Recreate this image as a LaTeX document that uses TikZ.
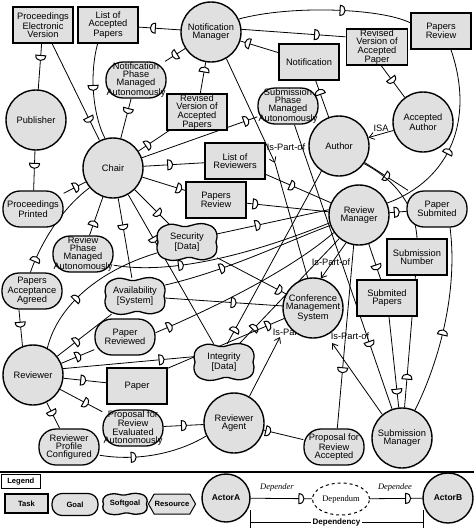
\documentclass[tikz,border=0pt]{standalone}
\usepackage{fontspec}
\setmainfont{Liberation Sans}
\newfontfamily\serifA{Liberation Serif}
\usetikzlibrary{shapes.misc,shapes.symbols,shapes.geometric,arrows.meta}
\pgfdeclarelayer{edges}
\pgfsetlayers{edges,main}
\definecolor{gfill}{gray}{0.88}
\newcommand{\ovr}[1]{\makebox[44pt][c]{#1}}
\begin{document}
\begin{tikzpicture}[x=1pt,y=-1pt,
  font=\fontsize{9.3}{8.3}\selectfont,
  actor/.style={circle,draw,fill=gfill,line width=1.4pt,minimum size=60pt,inner sep=0pt,align=center},
  res/.style={rectangle,draw,fill=gfill,line width=1.6pt,minimum width=60pt,minimum height=36pt,inner sep=0pt,align=center},
  goal/.style={rectangle,rounded corners=17pt,draw,fill=gfill,line width=1.3pt,minimum width=60pt,minimum height=36pt,inner sep=0pt,align=center},
  soft/.style={rectangle,minimum width=60pt,minimum height=36pt,inner sep=0pt,align=center},
  softg/.pic={\draw[line width=1.3pt,fill=gfill]
     (-20pt,17pt) .. controls (-12pt,20pt) and (-6pt,14pt) .. (0pt,15.5pt)
     .. controls (7pt,17pt) and (12pt,20pt) .. (20pt,17.5pt)
     .. controls (31pt,15pt) and (31pt,5pt) .. (29pt,0pt)
     .. controls (31pt,-6pt) and (31pt,-15pt) .. (20pt,-17pt)
     .. controls (11pt,-20pt) and (6pt,-14pt) .. (0pt,-15.5pt)
     .. controls (-6pt,-17pt) and (-12pt,-20pt) .. (-20pt,-17.5pt)
     .. controls (-31pt,-15pt) and (-31pt,-5pt) .. (-29pt,0pt)
     .. controls (-31pt,5pt) and (-31pt,14pt) .. (-20pt,17pt) -- cycle;},
  link/.style={line width=0.8pt},
  isa/.style={line width=0.8pt,-{Straight Barb[length=5pt,width=7pt,line width=0.8pt]}},
  lbl/.style={inner sep=0.5pt},
  lgfont/.style={font=\bfseries\fontsize{7.6}{8}\selectfont},
  dm/.pic={\draw[line width=1pt,fill=white] (-2pt,-5pt) -- (-2pt,5pt) .. controls (4.6pt,5pt) and (4.6pt,-5pt) .. (-2pt,-5pt) -- cycle;},
  dmr/.pic={\draw[line width=1pt,fill=white] (2pt,-5pt) -- (2pt,5pt) .. controls (-4.6pt,5pt) and (-4.6pt,-5pt) .. (2pt,-5pt) -- cycle;}
]
\useasboundingbox (0,0) rectangle (474,528);

% ---------- nodes ----------
\node[res] (PEV) at (43,25) {Proceedings\\Electronic\\Version};
\node[res] (LoAP) at (108,25) {List of\\Accepted\\Papers};
\node[actor] (NM) at (211,32) {Notification\\Manager};
\node[res,minimum width=61pt] (RVAP) at (377,47) {Revised\\Version of\\Accepted\\Paper};
\node[res] (PR1) at (441,31) {Papers\\Review};
\node[res] (Notif) at (309,62) {Notification};
\node[goal] (NPMA) at (136,80) {Notification\\Phase\\Managed\\\ovr{Autonomously}};
\node[res] (RVoAPs) at (197,112) {Revised\\Version of\\Accepted\\Papers};
\node[goal] (SPMA) at (288,106) {Submission\\Phase\\Managed\\\ovr{Autonomously}};
\node[actor] (Pub) at (36,120) {Publisher};
\node[actor] (AA) at (423,122) {Accepted\\Author};
\node[actor] (Author) at (339,146) {Author};
\node[actor] (Chair) at (113,168) {Chair};
\node[res] (LoR) at (235,161) {List of\\Reviewers};
\node[res] (PR2) at (216,200) {Papers\\Review};
\node[goal] (PP) at (33,209) {Proceedings\\Printed};
\node[goal] (PS) at (437,209) {Paper\\Submited};
\node[actor] (RM) at (359,215) {Review\\Manager};
\pic at (187,242) {softg};
\node[soft] (Sec) at (187,242) {Security\\{[Data]}};
\node[goal] (RPMA) at (83,254) {Review\\Phase\\Managed\\\ovr{Autonomously}};
\node[res] (SN) at (417,257) {Submission\\Number};
\node[goal] (PAA) at (32,291) {Papers\\Acceptance\\Agreed};
\pic at (135,296) {softg};
\node[soft] (Avail) at (135,296) {Availability\\{[System]}};
\node[res] (SP) at (387,298) {Submited\\Papers};
\node[actor] (CMS) at (313,308) {Conference\\\makebox[46pt][c]{Management}\\System};
\node[goal] (PRev) at (125,337) {Paper\\Reviewed};
\pic at (224,362) {softg};
\node[soft] (Integ) at (224,362) {Integrity\\{[Data]}};
\node[actor] (Rev) at (33,375) {Reviewer};
\node[res] (Paper) at (137,386) {Paper};
\node[actor] (RA) at (234,423) {Reviewer\\Agent};
\node[goal] (PREA) at (133,428) {Proposal for\\Review\\Evaluated\\\ovr{Autonomously}};
\node[goal] (RPC) at (69,447) {Reviewer\\Profile\\Configured};
\node[goal] (PRA) at (334,447) {Proposal for\\Review\\Accepted};
\node[actor] (SM) at (402,438) {Submission\\Manager};

% ---------- connectors ----------
\begin{pgfonlayer}{edges}
\draw[link] (PEV) -- (Pub) pic[sloped,pos=0.3]{dmr};
\draw[link] (PEV) -- (Chair) pic[sloped,pos=0.78]{dm};
\draw[link] (LoAP.-119) .. controls (88,80) and (95,120) .. (Chair.105) pic[sloped,pos=0.4]{dm};
\draw[link] (LoAP) -- (NM) pic[sloped,pos=0.35]{dmr};
\draw[link] (NPMA) -- (NM) pic[sloped,pos=0.5]{dmr};
\draw[link] (NPMA) -- (Chair) pic[sloped,pos=0.3]{dmr};
\draw[link] (RVoAPs) -- (NM) pic[sloped,pos=0.75]{dm};
\draw[link] (RVoAPs) -- (Chair) pic[sloped,pos=0.7]{dm};
\draw[link] (Chair) -- (PP) pic[sloped,pos=0.45]{dm};
\draw[link] (Pub) -- (PP) pic[sloped,pos=0.37]{dmr};
\draw[link] (Chair) -- (RPMA) pic[sloped,pos=0.7]{dm};
\draw[link] (Chair.-140) .. controls (60,210) and (40,245) .. (PAA.95) pic[sloped,pos=0.85]{dm};
\draw[link] (Chair) -- (Avail) pic[sloped,pos=0.36]{dm};
\draw[link] (Chair) -- (Integ) pic[sloped,pos=0.3]{dm};
\draw[link] (Chair) -- (Sec) pic[sloped,pos=0.68]{dm};
\draw[link] (Chair) -- (LoR) pic[sloped,pos=0.43]{dm};
\draw[link] (Chair) -- (PR2) pic[sloped,pos=0.85]{dm};
\draw[link] (Chair) -- (SPMA) pic[sloped,pos=0.9]{dm};
\draw[link] (NM.25) .. controls (290,5) and (380,8) .. (PR1.165) pic[sloped,pos=0.55]{dm};
\draw[link] (NM.5) -- (RVAP.162) pic[sloped,pos=0.72]{dm};
\draw[link] (NM) -- (Notif) pic[sloped,pos=0.2]{dmr};
\draw[link] (Notif) -- (Author) pic[sloped,pos=0.32]{dmr};
\draw[link] (RVAP.-77) -- (AA) pic[sloped,pos=0.45]{dm};
\draw[isa] (AA) -- (Author) node[lbl,above=2pt,pos=0.5]{ISA};
\draw[link] (PR1.-62) .. controls (475,120) and (450,180) .. (RM.23) pic[sloped,pos=0.55]{dm};
\draw[link] (Author) -- (PS) pic[sloped,pos=0.5]{dm};
\draw[link] (RM) -- (PS) pic[sloped,pos=0.4]{dm};
\draw[link] (Author.-35) .. controls (395,180) and (415,205) .. (SN.north);
\draw[link] (SN) -- (SM) pic[sloped,pos=0.77]{dm};
\draw[link] (SP) -- (SM) pic[sloped,pos=0.82]{dm};
\draw[link] (PS.-55) .. controls (458,290) and (440,360) .. (SM.65) pic[sloped,pos=0.55]{dm};
\draw[link] (SPMA) -- (SM) pic[sloped,pos=0.77]{dm};
\draw[link] (RM) -- (SP) pic[sloped,pos=0.65]{dm};
\draw[link] (PRA.80) -- (RM.-100) pic[sloped,pos=0.32]{dmr};
\draw[link] (PRA) -- (RA) pic[sloped,pos=0.9]{dm};
\draw[link] (PREA) -- (RA) pic[sloped,pos=0.5]{dm};
\draw[link] (RPC.-15) .. controls (140,462) and (180,452) .. (RA.205) pic[sloped,pos=0.28]{dm};
\draw[link] (Rev) -- (RPC) pic[sloped,pos=0.4]{dm};
\draw[link] (Rev) -- (PREA) pic[sloped,pos=0.6]{dm};
\draw[link] (Rev) -- (Paper) pic[sloped,pos=0.45]{dm};
\draw[link] (Rev.12) -- (Integ.170) pic[sloped,pos=0.75]{dm};
\draw[link] (Rev) -- (PRev) pic[sloped,pos=0.5]{dm};
\draw[link] (PAA.-125) -- (Rev.110) pic[sloped,pos=0.4]{dm};
\draw[link] (Rev.62) .. controls (58,305) and (100,270) .. (Sec.200) pic[sloped,pos=0.42]{dm};
\draw[link] (Rev) -- (Avail) pic[sloped,pos=0.35]{dm};
\draw[link] (Avail) -- (CMS) pic[sloped,pos=0.58]{dm};
\draw[link] (Avail.20) .. controls (230,270) and (290,240) .. (RM.200) pic[sloped,pos=0.3]{dm};
\draw[link] (RPMA.-20) .. controls (170,275) and (250,255) .. (RM.195) pic[sloped,pos=0.35]{dm};
\draw[link] (Sec.15) -- (RM.170) pic[sloped,pos=0.36]{dm};
\draw[link] (Sec) -- (CMS) pic[sloped,pos=0.9]{dm};
\draw[link] (Integ.80) -- (Author.-125) pic[sloped,pos=0.08]{dm};
\draw[link] (Integ.50) -- (RM.-130) pic[sloped,pos=0.15]{dm};
\draw[link] (PRev.8) .. controls (220,305) and (290,270) .. (RM.215) pic[sloped,pos=0.07]{dm};
\draw[link] (Paper.30) -- (CMS.200) pic[sloped,pos=0.86]{dm};
\draw[link] (LoR) -- (RM) pic[sloped,pos=0.4]{dm};
\draw[link] (PR2) -- (RM) pic[sloped,pos=0.1]{dm};
% is-part-of links
\coordinate (ispNM) at (275,163);
\draw[isa] (NM.-60) -- (ispNM);
\draw[link] (ispNM) -- (CMS.100);
\node[lbl] (tNM) at (286,147) {Is-Part-of};
\draw[isa] (RM.-115) -- (CMS.75);
\node[lbl] (tRM) at (331,262) {Is-Part-of};
\coordinate (ispRA) at (280,337);
\draw[isa] (RA.60) -- (ispRA);
\node[lbl] (tRA) at (292,332) {Is-Part-of};
\coordinate (ispSM) at (332,343);
\draw[isa] (SM.130) -- (ispSM);
\node[lbl] (tSM) at (350,336) {Is-Part-of};
\end{pgfonlayer}

% ---------- legend ----------
\coordinate (legL) at (0,472);
\coordinate (legR) at (474,472);
\draw[line width=2pt] (legL) -- (legR);
\node[draw,line width=1.3pt,inner sep=0pt,minimum width=39pt,minimum height=14pt,lgfont,anchor=north west] (leg) at (0.7,473.5) {Legend};
\node[res,minimum width=43pt,minimum height=19pt,line width=1.2pt,lgfont] (lTask) at (26.5,503.5) {Task};
\node[goal,rounded corners=10pt,minimum width=46pt,minimum height=22pt,line width=1.2pt,lgfont] (lGoal) at (75,504.5) {Goal};
\pic[xscale=0.74,yscale=0.58] at (125,504) {softg};
\node[soft,minimum width=44pt,minimum height=20pt,lgfont] (lSoft) at (125,504) {Softgoal};
\node[signal,signal to=east and west,signal pointer angle=120,draw,fill=gfill,line width=1pt,minimum width=44pt,minimum height=20pt,inner sep=0.5pt,lgfont] (lRes) at (172,504) {Resource};
\node[actor,minimum size=48pt,font=\bfseries\fontsize{8.5}{9}\selectfont] (actA) at (226,498) {ActorA};
\node[actor,minimum size=50pt,font=\bfseries\fontsize{8.5}{9}\selectfont] (actB) at (448,498) {ActorB};
\node[ellipse,draw,dashed,line width=1pt,minimum width=57pt,minimum height=32pt,inner sep=0pt,font=\serifA\fontsize{8.5}{9}\selectfont] (dum) at (341,499) {Dependum};
\draw[link] (actA) -- (dum) pic[sloped,pos=0.82]{dm};
\draw[link] (dum) -- (actB) pic[sloped,pos=0.72]{dm};
\node[font=\serifA\itshape\fontsize{8.5}{9}\selectfont] (tDer) at (277,487) {Depender};
\node[font=\serifA\itshape\fontsize{8.5}{9}\selectfont] (tDee) at (395,487) {Dependee};
\coordinate (b1) at (250,510);
\coordinate (b2) at (250,528);
\coordinate (b3) at (423,510);
\coordinate (b4) at (423,528);
\coordinate (b5) at (250,522);
\coordinate (b6) at (423,522);
\draw[link] (b1) -- (b2);
\draw[link] (b3) -- (b4);
\draw[link] (b5) -- (b6) node[midway,fill=white,inner sep=1.5pt,font=\bfseries\fontsize{8}{9}\selectfont] (tDep) {Dependency};
\end{tikzpicture}
\end{document}
